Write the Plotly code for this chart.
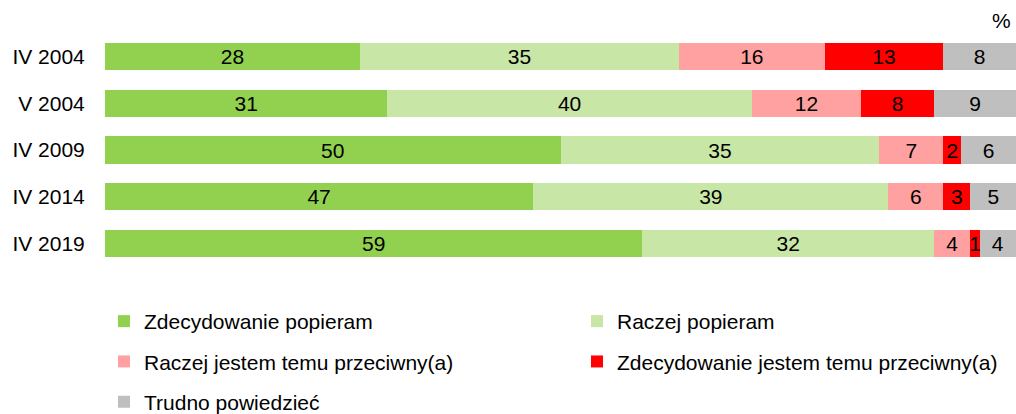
import plotly.graph_objects as go

categories = ["IV 2004", "V 2004", "IV 2009", "IV 2014", "IV 2019"]
series_names = [
    "Zdecydowanie popieram",
    "Raczej popieram",
    "Raczej jestem temu przeciwny(a)",
    "Zdecydowanie jestem temu przeciwny(a)",
    "Trudno powiedzieć",
]
zdec_popieram = [28, 31, 50, 47, 59]
raczej_popieram = [35, 40, 35, 39, 32]
raczej_przeciw = [16, 12, 7, 6, 4]
zdec_przeciw = [13, 8, 2, 3, 1]
trudno = [8, 9, 6, 5, 4]

series_values = [zdec_popieram, raczej_popieram, raczej_przeciw, zdec_przeciw, trudno]
colors = ["#92D050", "#C8E6A6", "#FFA1A1", "#FF0000", "#BFBFBF"]
legend_ids = ["legend", "legend2", "legend", "legend2", "legend"]

FONT = "Liberation Sans, Arial, sans-serif"
FS = 21

fig = go.Figure()
for i, (name, vals, col, lg) in enumerate(zip(series_names, series_values, colors, legend_ids)):
    fig.add_trace(go.Bar(
        y=categories, x=vals, name=name, orientation="h",
        marker=dict(color=col, line=dict(width=0)),
        text=[str(v) for v in vals], textposition="inside",
        insidetextanchor="middle", textangle=0,
        textfont=dict(family=FONT, size=FS, color="black"),
        legend=lg, legendgroup=f"g{i}", hoverinfo="skip",
    ))

W, H = 1016, 414
ml, mr, mt, mb = 105, 0, 33, 147
pw = W - ml - mr
ph = H - mt - mb

def px_to_paper_x(px):
    return (px - ml) / pw

def px_to_paper_y(py):
    return 1 - (py - mt) / ph

fig.update_layout(
    width=W, height=H,
    margin=dict(l=ml, r=mr, t=mt, b=mb, pad=0, autoexpand=False),
    barmode="stack", bargap=0.415,
    plot_bgcolor="white", paper_bgcolor="white",
    font=dict(family=FONT, size=FS, color="black"),
    uniformtext=dict(minsize=FS, mode="show"),
    xaxis=dict(range=[0, 100], visible=False, fixedrange=True),
    yaxis=dict(categoryorder="array", categoryarray=categories, autorange="reversed",
               showgrid=False, showline=False, zeroline=False,
               ticks="outside", ticklen=0, ticklabelstandoff=15,
               tickfont=dict(family=FONT, size=FS, color="black")),
    legend=dict(orientation="v", x=px_to_paper_x(104), xanchor="left",
                y=px_to_paper_y(301), yanchor="top", tracegroupgap=10,
                font=dict(family=FONT, size=FS, color="black"),
                bgcolor="rgba(0,0,0,0)", itemclick=False, itemdoubleclick=False),
    legend2=dict(orientation="v", x=px_to_paper_x(577), xanchor="left",
                 y=px_to_paper_y(301), yanchor="top", tracegroupgap=10,
                 font=dict(family=FONT, size=FS, color="black"),
                 bgcolor="rgba(0,0,0,0)", itemclick=False, itemdoubleclick=False),
    annotations=[dict(text="%", x=px_to_paper_x(1001), y=px_to_paper_y(21),
                      xanchor="center", yanchor="middle",
                      xref="paper", yref="paper", showarrow=False,
                      font=dict(family=FONT, size=FS, color="black"))],
)

fig.write_html(
    "out.html",
    config={"displayModeBar": False},
    post_script="document.body.style.margin='0';document.body.style.overflow='hidden';",
)
